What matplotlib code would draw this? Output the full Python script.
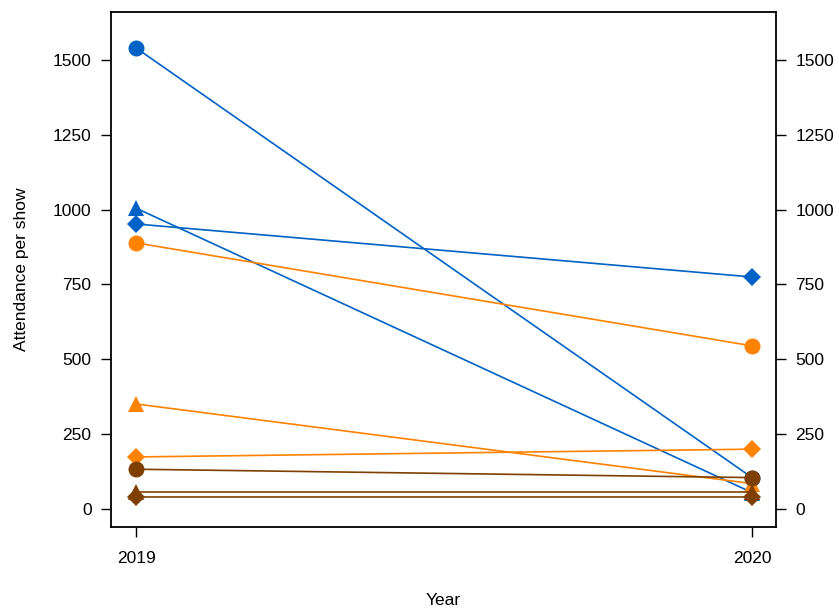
import matplotlib
matplotlib.use("Agg")
import matplotlib.pyplot as plt

plt.rcParams["font.family"] = ["Liberation Sans", "DejaVu Sans"]

years = [2019, 2020]
# attendance per show, one series per (group, marker)
series_names = ["A circle", "A triangle", "A diamond",
                "B circle", "B triangle", "B diamond",
                "C circle", "C triangle", "C diamond"]
values_2019 = [1540, 1005, 952, 889, 351, 174, 133, 57, 40]
values_2020 = [105, 55, 775, 545, 85, 200, 105, 57, 40]
colors = ["#0062C4"] * 3 + ["#FF8200"] * 3 + ["#7F3F00"] * 3
markers = ["o", "^", "D"] * 3
marker_sizes = [11.5, 11.5, 9] * 3

fig = plt.figure(figsize=(8.39, 6.08), dpi=100)
ax = fig.add_axes([0.1323, 0.1332, 0.7927, 0.8471])

for v19, v20, c, m, ms in zip(values_2019, values_2020, colors, markers, marker_sizes):
    ax.plot(years, [v19, v20], color=c, marker=m, markersize=ms,
            linewidth=1.2, markeredgewidth=0)

ax.set_xlim(2019 - 0.0406, 2020 + 0.039)
ax.set_ylim(-60, 1660)
ax.set_xticks(years)
ax.set_xticklabels([str(y) for y in years])
ax.set_yticks([0, 250, 500, 750, 1000, 1250, 1500])
ax.tick_params(axis="both", direction="out", length=7, width=1, labelsize=12.5,
               pad=7)
ax.tick_params(axis="y", right=True, labelright=True)
ax.tick_params(axis="x", pad=10)
for s in ax.spines.values():
    s.set_linewidth(1.3)

ax.set_ylabel("Attendance per show", fontsize=12.5, labelpad=17)
ax.set_xlabel("Year", fontsize=12.5, labelpad=20)

fig.savefig("out.png", dpi=100)
